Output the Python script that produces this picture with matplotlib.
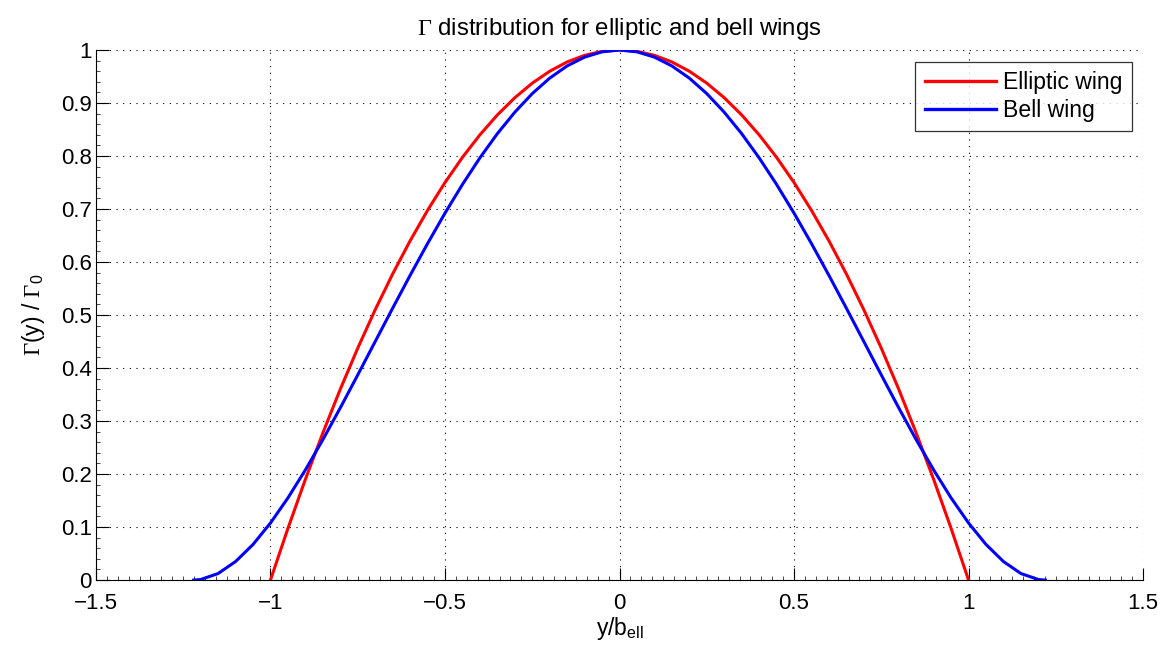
import matplotlib.pyplot as plt
from matplotlib.ticker import MultipleLocator

# ==========================
# DATA
# ==========================
y_ell = [-1.0, -0.95, -0.9, -0.85, -0.8, -0.75, -0.7, -0.65, -0.6, -0.55, -0.5,
         -0.45, -0.4, -0.35, -0.3, -0.25, -0.2, -0.15, -0.1, -0.05, 0.0,
         0.05, 0.1, 0.15, 0.2, 0.25, 0.3, 0.35, 0.4, 0.45, 0.5,
         0.55, 0.6, 0.65, 0.7, 0.75, 0.8, 0.85, 0.9, 0.95, 1.0]
gam_ell = [0.0, 0.0975, 0.19, 0.2775, 0.36, 0.4375, 0.51, 0.5775, 0.64, 0.6975, 0.75,
           0.7975, 0.84, 0.8775, 0.91, 0.9375, 0.96, 0.9775, 0.99, 0.9975, 1.0,
           0.9975, 0.99, 0.9775, 0.96, 0.9375, 0.91, 0.8775, 0.84, 0.7975, 0.75,
           0.6975, 0.64, 0.5775, 0.51, 0.4375, 0.36, 0.2775, 0.19, 0.0975, 0.0]

y_bell = [-1.22, -1.2, -1.15, -1.1, -1.05, -1.0, -0.95, -0.9, -0.85, -0.8, -0.75,
          -0.7, -0.65, -0.6, -0.55, -0.5, -0.45, -0.4, -0.35, -0.3, -0.25,
          -0.2, -0.15, -0.1, -0.05, 0.0, 0.05, 0.1, 0.15, 0.2, 0.25,
          0.3, 0.35, 0.4, 0.45, 0.5, 0.55, 0.6, 0.65, 0.7, 0.75,
          0.8, 0.85, 0.9, 0.95, 1.0, 1.05, 1.1, 1.15, 1.2, 1.22]
gam_bell = [0.0, 0.0011, 0.0124, 0.035, 0.0672, 0.1077, 0.155, 0.2078, 0.2648, 0.3249, 0.387,
            0.45, 0.5129, 0.5748, 0.6348, 0.6923, 0.7464, 0.7966, 0.8422, 0.8827, 0.9178,
            0.947, 0.97, 0.9866, 0.9966, 1.0, 0.9966, 0.9866, 0.97, 0.947, 0.9178,
            0.8827, 0.8422, 0.7966, 0.7464, 0.6923, 0.6348, 0.5748, 0.5129, 0.45, 0.387,
            0.3249, 0.2648, 0.2078, 0.155, 0.1077, 0.0672, 0.035, 0.0124, 0.0011, 0.0]

labels = ["Elliptic wing", "Bell wing"]
xticks = [-1.5, -1, -0.5, 0, 0.5, 1, 1.5]
xticklabels = ["\u22121.5", "\u22121", "\u22120.5", "0", "0.5", "1", "1.5"]
yticks = [0, 0.1, 0.2, 0.3, 0.4, 0.5, 0.6, 0.7, 0.8, 0.9, 1]
yticklabels = ["0", "0.1", "0.2", "0.3", "0.4", "0.5", "0.6", "0.7", "0.8", "0.9", "1"]

# ==========================
# FIGURE
# ==========================
plt.rcParams['font.family'] = ['Liberation Sans', 'DejaVu Sans']
plt.rcParams['mathtext.fontset'] = 'custom'
plt.rcParams['mathtext.rm'] = 'Liberation Serif'
plt.rcParams['mathtext.it'] = 'Liberation Serif:italic'
plt.rcParams['mathtext.sf'] = 'Liberation Sans'

fig = plt.figure(figsize=(11.7, 6.54), dpi=100)
ax = fig.add_axes([0.082, 0.113, 0.895, 0.8105])

ax.plot(y_ell, gam_ell, color='#ff0000', linewidth=2.2, label=labels[0],
        solid_joinstyle='round')
ax.plot(y_bell, gam_bell, color='#0000ff', linewidth=2.2, label=labels[1],
        solid_joinstyle='round')

ax.set_xlim(-1.5, 1.5)
ax.set_ylim(0, 1)
ax.set_xticks(xticks)
ax.set_xticklabels(xticklabels)
ax.set_yticks(yticks)
ax.set_yticklabels(yticklabels)
ax.xaxis.set_minor_locator(MultipleLocator(0.5 / 16))
ax.yaxis.set_minor_locator(MultipleLocator(0.02))

ax.tick_params(which='major', direction='in', length=9, width=0.8, labelsize=16)
ax.tick_params(axis='x', which='major', pad=9)
ax.tick_params(axis='y', which='major', pad=3)
ax.tick_params(which='minor', direction='in', length=3, width=0.5)
ax.spines['top'].set_visible(False)
ax.spines['right'].set_visible(False)
ax.grid(True, which='major', linestyle=(0, (1, 5)), color='black', linewidth=0.8)

ax.set_title(r"$\Gamma$ distribution for elliptic and bell wings", fontsize=17.3, pad=11)
ax.set_xlabel(r"y/b$_{\mathsf{ell}}$", fontsize=16.5, labelpad=1)
ax.set_ylabel(r"$\Gamma$(y) / $\Gamma_{\mathsf{0}}$", fontsize=16.5, labelpad=10)

leg = ax.legend(loc='upper right', fontsize=16.6, frameon=True, fancybox=False,
                edgecolor='black', borderaxespad=0.5, borderpad=0.4,
                handlelength=3.1, handletextpad=0.3, labelspacing=0.22)
leg.get_frame().set_linewidth(0.9)
for line in leg.get_lines():
    line.set_linewidth(2.4)

fig.savefig("out.png", dpi=100)
